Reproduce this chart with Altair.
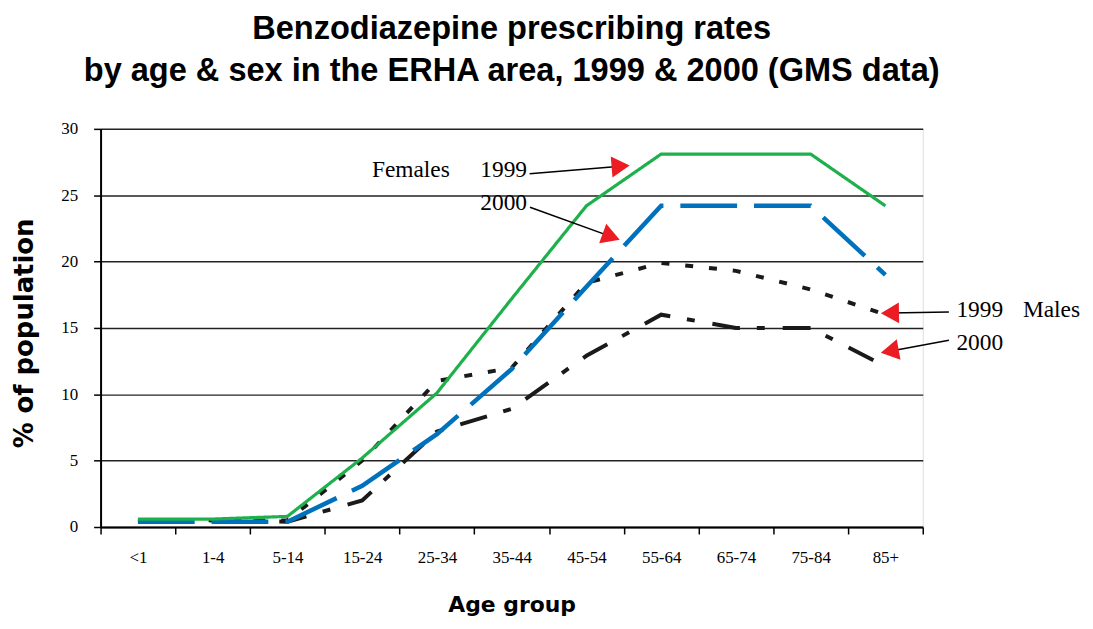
import altair as alt
import pandas as pd

# ---- data ----
ages = ["<1", "1-4", "5-14", "15-24", "25-34", "35-44", "45-54", "55-64", "65-74", "75-84", "85+"]
f1999 = [0.6, 0.6, 0.8, 5.2, 10.1, 17.2, 24.2, 28.1, 28.1, 28.1, 24.2]
f2000 = [0.4, 0.4, 0.4, 3.1, 7.0, 11.9, 18.1, 24.2, 24.2, 24.2, 19.0]
m1999 = [0.5, 0.5, 0.5, 5.0, 11.0, 12.0, 18.4, 19.9, 19.3, 17.9, 16.0]
m2000 = [0.5, 0.5, 0.4, 2.0, 7.2, 8.9, 12.9, 16.0, 15.0, 15.0, 12.1]

series_names = ["Males 2000", "Males 1999", "Females 2000", "Females 1999"]
series_vals = [m2000, m1999, f2000, f1999]
series_colors = ["#1a1a1a", "#1a1a1a", "#0071bc", "#1db04b"]
series_widths = [4, 4, 4.5, 3.2]
series_dash = [[28, 17, 8, 18], [8, 16], [57, 17], [1, 0]]

# annotation labels (data coordinates)
ann_text = ["Females", "1999", "2000", "1999", "Males", "2000"]
ann_x = [3.63, 5.08, 5.08, 11.45, 12.34, 11.45]
ann_y = [26.37, 26.37, 23.87, 15.85, 15.85, 13.35]

# arrows: start point -> arrow-head centre
arr_x1 = [5.74, 5.745, 11.35, 11.35]
arr_y1 = [26.62, 24.09, 16.21, 14.08]
arr_x2 = [6.958, 6.832, 10.561, 10.558]
arr_y2 = [27.18, 21.88, 16.12, 13.25]
arr_angle = [355.3, 19.9, 179.0, 169.7]

# ---- tables ----
rows = []
for name, vals in zip(series_names, series_vals):
    for i, (age, v) in enumerate(zip(ages, vals)):
        rows.append({"series": name, "age": age, "x": i + 0.5, "value": v})
df = pd.DataFrame(rows)

ann_df = pd.DataFrame({"label": ann_text, "x": ann_x, "value": ann_y})
arr_df = pd.DataFrame({"x": arr_x1, "value": arr_y1, "x2": arr_x2, "value2": arr_y2})
head_df = pd.DataFrame({"x": arr_x2, "value": arr_y2, "angle": arr_angle})

W, H = 826, 400
x_scale = alt.Scale(domain=[0, len(ages)], nice=False, zero=False)
y_scale = alt.Scale(domain=[0, 30], nice=False)

label_js = "[" + ",".join("'%s'" % a for a in ages) + "]"
x_axis = alt.Axis(
    values=[i * 0.5 for i in range(2 * len(ages) + 1)],
    labelExpr="datum.value % 1 == 0 ? '' : " + label_js + "[floor(datum.value)]",
    title="Age group",
    titleFont="DejaVu Sans", titleFontWeight="bold", titleFontSize=22, titleColor="black",
    titleX=W / 2, titleY=85, titleAlign="center", titleBaseline="alphabetic",
    grid=False, domainColor="black", domainWidth=2,
    tickColor={"condition": {"test": "datum.value % 1 != 0", "value": "transparent"}, "value": "black"},
    tickSize=7, tickWidth=1.5,
    labelFont="Liberation Serif", labelFontSize=17, labelColor="black",
    labelPadding=16, labelFlush=False, labelOverlap=False,
)
y_axis = alt.Axis(
    values=[0, 5, 10, 15, 20, 25, 30],
    title="% of population",
    titleFont="DejaVu Sans", titleFontWeight="bold", titleFontSize=26, titleColor="black",
    titleAngle=270, titleX=-76, titleY=205, titleAlign="center", titleBaseline="middle",
    grid=True, gridColor="#222222", gridWidth=1.5,
    domainColor="black", domainWidth=2,
    tickColor="black", tickSize=7, tickWidth=1.5,
    labelFont="Liberation Serif", labelFontSize=17, labelColor="black", labelPadding=16,
)

X = alt.X("x:Q", scale=x_scale, axis=x_axis)
Y = alt.Y("value:Q", scale=y_scale, axis=y_axis)

layers = []
for name, col, w, dash in zip(series_names, series_colors, series_widths, series_dash):
    layers.append(
        alt.Chart(df)
        .transform_filter(alt.datum.series == name)
        .mark_line(color=col, strokeWidth=w, strokeDash=dash, strokeCap="butt", strokeJoin="miter")
        .encode(x=X, y=Y)
    )

arrows = alt.Chart(arr_df).mark_rule(color="black", strokeWidth=1.5).encode(
    x=X, y=Y, x2="x2:Q", y2="value2:Q"
)
heads = alt.Chart(head_df).mark_point(
    shape="triangle-right", filled=True, color="#ec1c24", size=440, opacity=1, strokeWidth=0
).encode(x=X, y=Y, angle=alt.Angle("angle:Q", scale=None))
labels = alt.Chart(ann_df).mark_text(
    align="left", baseline="alphabetic", font="Liberation Serif", fontSize=23.5, color="black"
).encode(x=X, y=Y, text="label:N")

chart = alt.layer(*layers, arrows, heads, labels).properties(
    width=W, height=H,
    autosize=alt.AutoSizeParams(type="none"),
    padding={"left": 93, "top": 120, "right": 163, "bottom": 93},
    title=alt.TitleParams(
        text=["Benzodiazepine prescribing rates",
              "by age & sex in the ERHA area, 1999 & 2000 (GMS data)"],
        font="Liberation Sans", fontSize=32.7, fontWeight="bold", color="black",
        anchor="middle", frame="group", lineHeight=43, offset=32,
    ),
).configure_view(strokeWidth=0).configure(background="white")

chart.save("out.html", embed_options={"renderer": "svg", "actions": False})
